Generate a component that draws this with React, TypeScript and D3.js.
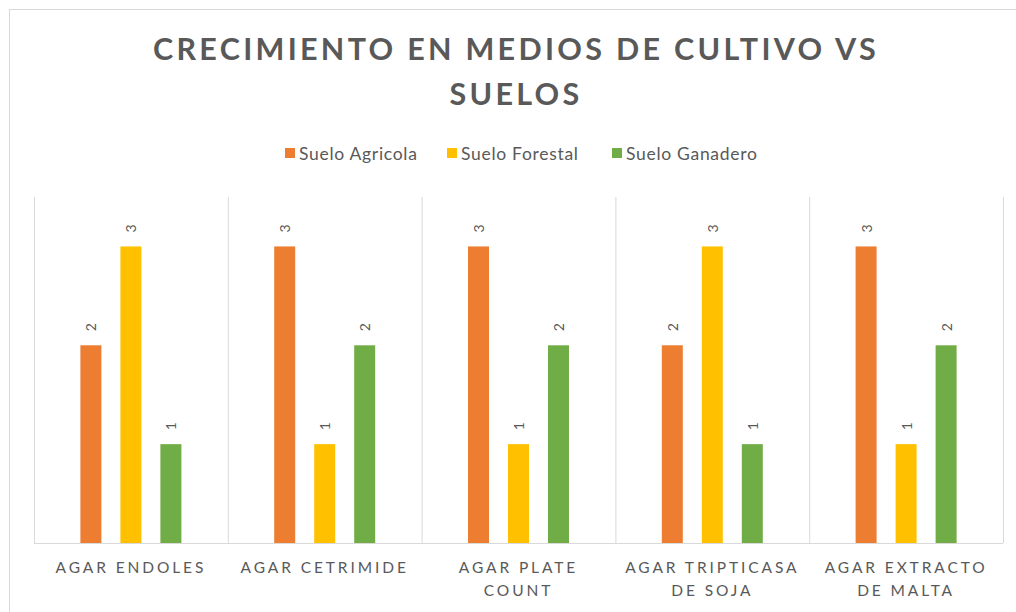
import React, { useEffect, useRef } from 'react';
import * as d3 from 'd3';

// Chart data
const categories = [
  'AGAR ENDOLES',
  'AGAR CETRIMIDE',
  'AGAR PLATE COUNT',
  'AGAR TRIPTICASA DE SOJA',
  'AGAR EXTRACTO DE MALTA',
];
const seriesNames = ['Suelo Agricola', 'Suelo Forestal', 'Suelo Ganadero'];
const seriesColors = ['#ED7D31', '#FFC000', '#70AD47'];
const agricola = [2, 3, 3, 2, 3];
const forestal = [3, 1, 1, 3, 1];
const ganadero = [1, 2, 2, 1, 2];
const titleLines = ['CRECIMIENTO EN MEDIOS DE CULTIVO VS', 'SUELOS'];

const App = () => {
  const ref = useRef<SVGSVGElement | null>(null);

  useEffect(() => {
    const W = 1016;
    const H = 612;
    const plot = { left: 34, right: 1003, top: 197, bottom: 543 };
    const textColor = '#595959';
    const gridColor = '#D9D9D9';

    const svg = d3.select(ref.current);
    svg.selectAll('*').remove();

    // chart frame
    svg.append('rect')
      .attr('x', 9.5).attr('y', 9.5)
      .attr('width', W + 20).attr('height', H + 20)
      .attr('fill', 'white')
      .attr('stroke', gridColor);

    // title
    svg.append('g')
      .selectAll('text')
      .data(titleLines)
      .enter()
      .append('text')
      .attr('x', 516)
      .attr('y', (d, i) => 60 + i * 45)
      .attr('text-anchor', 'middle')
      .attr('font-family', 'Lato, sans-serif')
      .attr('font-weight', 700)
      .attr('font-size', 30.5)
      .attr('letter-spacing', 3.3)
      .attr('fill', textColor)
      .text(d => d);

    // legend
    const legendX = [285, 447, 612];
    const legend = svg.append('g')
      .selectAll('g')
      .data(seriesNames)
      .enter()
      .append('g')
      .attr('transform', (d, i) => `translate(${legendX[i]},153)`);
    legend.append('rect')
      .attr('x', 0).attr('y', -5)
      .attr('width', 10).attr('height', 10)
      .attr('fill', (d, i) => seriesColors[i]);
    legend.append('text')
      .attr('x', 14)
      .attr('y', 0)
      .attr('dominant-baseline', 'central')
      .attr('font-family', 'Lato, sans-serif')
      .attr('font-size', 17.5)
      .attr('letter-spacing', 0.7)
      .attr('fill', textColor)
      .text(d => d);

    // scales
    const x0 = d3.scaleBand<string>()
      .domain(categories)
      .range([plot.left, plot.right])
      .paddingInner(0)
      .paddingOuter(0);
    const x1 = d3.scaleBand<string>()
      .domain(seriesNames)
      .range([0, x0.bandwidth()])
      .paddingInner(0.475)
      .paddingOuter(1.16);
    const y = d3.scaleLinear()
      .domain([0, 3.5])
      .range([plot.bottom, plot.top]);

    // category separators
    const seps = categories.map(c => x0(c)!).concat([plot.right]);
    svg.append('g')
      .selectAll('line')
      .data(seps)
      .enter()
      .append('line')
      .attr('x1', d => d + 0.5).attr('x2', d => d + 0.5)
      .attr('y1', plot.top).attr('y2', plot.bottom)
      .attr('stroke', gridColor);

    // bars
    const series = [agricola, forestal, ganadero];
    const rows = categories.flatMap((c, ci) =>
      seriesNames.map((s, si) => ({ c, s, si, v: series[si][ci] })));

    const barG = svg.append('g');
    barG.selectAll('rect')
      .data(rows)
      .enter()
      .append('rect')
      .attr('x', d => x0(d.c)! + x1(d.s)!)
      .attr('y', d => y(d.v))
      .attr('width', x1.bandwidth())
      .attr('height', d => y(0) - y(d.v))
      .attr('fill', d => seriesColors[d.si]);

    // data labels, rotated
    barG.selectAll('text')
      .data(rows)
      .enter()
      .append('text')
      .attr('transform', d => {
        const cx = x0(d.c)! + x1(d.s)! + x1.bandwidth() / 2;
        return `translate(${cx},${y(d.v) - 14}) rotate(-90)`;
      })
      .attr('text-anchor', 'start')
      .attr('dominant-baseline', 'central')
      .attr('font-family', 'Lato, sans-serif')
      .attr('font-size', 14)
      .attr('fill', textColor)
      .text(d => d.v);

    // x axis line
    svg.append('line')
      .attr('x1', plot.left).attr('x2', plot.right)
      .attr('y1', plot.bottom + 0.5).attr('y2', plot.bottom + 0.5)
      .attr('stroke', gridColor);

    // category labels with wrapping
    const maxW = 180;
    categories.forEach(c => {
      const cx = x0(c)! + x0.bandwidth() / 2;
      const t = svg.append('text')
        .attr('x', cx)
        .attr('y', 573)
        .attr('text-anchor', 'middle')
        .attr('font-family', 'Lato, sans-serif')
        .attr('font-size', 15.5)
        .attr('letter-spacing', 2.9)
        .attr('fill', textColor);
      const words = c.split(' ');
      let line: string[] = [];
      let tspan = t.append('tspan').attr('x', cx).attr('dy', 0);
      words.forEach(w => {
        line.push(w);
        tspan.text(line.join(' '));
        if ((tspan.node() as SVGTSpanElement).getComputedTextLength() > maxW && line.length > 1) {
          line.pop();
          tspan.text(line.join(' '));
          line = [w];
          tspan = t.append('tspan')
            .attr('x', cx)
            .attr('dy', 23)
            .text(w);
        }
      });
    });
  }, []);

  return (
    <svg
      ref={ref}
      width={1016}
      height={612}
      style={{ position: 'absolute', left: 0, top: 0, background: 'white' }}
    />
  );
};

export default App;
